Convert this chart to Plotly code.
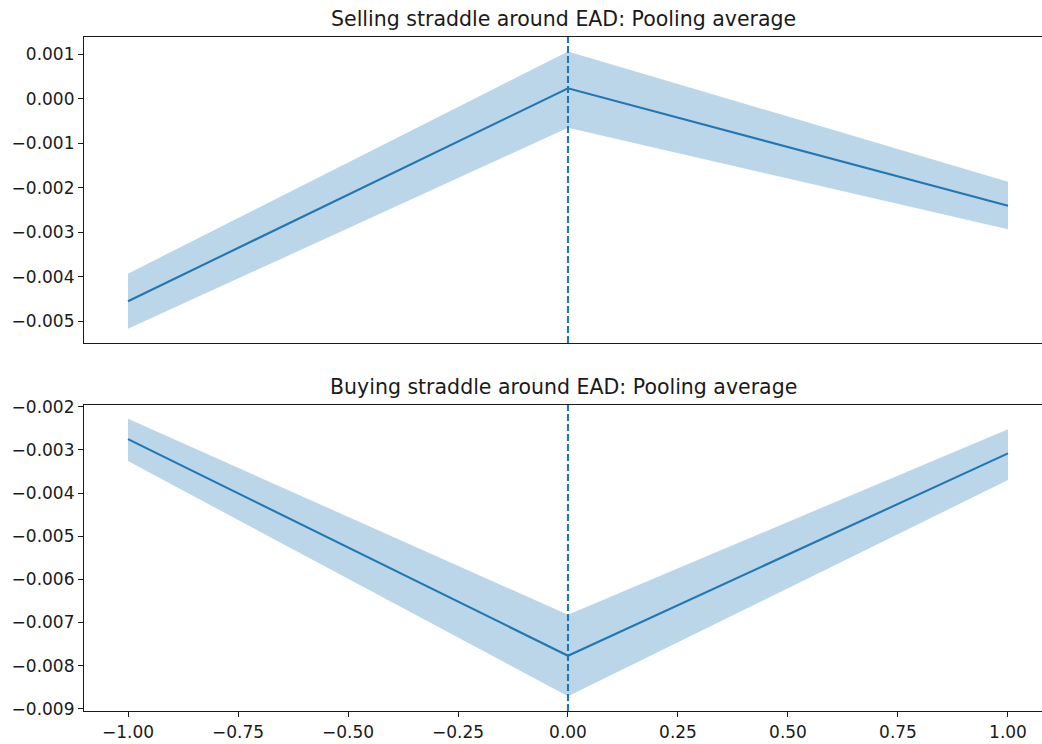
import plotly.graph_objects as go
from plotly.subplots import make_subplots

# Event-time grid (days relative to EAD)
days = [-1.0, 0.0, 1.0]

# Selling straddle: pooled mean return with confidence band
sell_mean = [-0.00455, 0.00024, -0.00240]
sell_upper = [-0.00393, 0.00107, -0.00186]
sell_lower = [-0.00517, -0.00065, -0.00293]

# Buying straddle: pooled mean return with confidence band
buy_mean = [-0.00275, -0.00777, -0.00308]
buy_upper = [-0.00228, -0.00682, -0.00252]
buy_lower = [-0.00326, -0.00871, -0.00370]

x_ticks = [-1.0, -0.75, -0.5, -0.25, 0.0, 0.25, 0.5, 0.75, 1.0]
sell_ticks = [0.001, 0.0, -0.001, -0.002, -0.003, -0.004, -0.005]
buy_ticks = [-0.002, -0.003, -0.004, -0.005, -0.006, -0.007, -0.008, -0.009]

titles = ["Selling straddle around EAD: Pooling average",
          "Buying straddle around EAD: Pooling average"]

LINE = "#1f77b4"
BAND = "rgba(31,119,180,0.3)"
FONT = "DejaVu Sans"
INK = "#1a1a1a"

fig = make_subplots(rows=2, cols=1, shared_xaxes=False, vertical_spacing=0.092)


def add_panel(row, mean, upper, lower):
    fig.add_trace(go.Scatter(x=days, y=upper, mode="lines", line=dict(width=0),
                             hoverinfo="skip", showlegend=False), row=row, col=1)
    fig.add_trace(go.Scatter(x=days, y=lower, mode="lines", line=dict(width=0),
                             fill="tonexty", fillcolor=BAND,
                             hoverinfo="skip", showlegend=False), row=row, col=1)
    fig.add_trace(go.Scatter(x=days, y=mean, mode="lines",
                             line=dict(color=LINE, width=2.1),
                             showlegend=False), row=row, col=1)


add_panel(1, sell_mean, sell_upper, sell_lower)
add_panel(2, buy_mean, buy_upper, buy_lower)

# Vertical dashed marker at the announcement day in each panel
for yref, xref in (("y domain", "x"), ("y2 domain", "x2")):
    fig.add_shape(type="line", x0=0, x1=0, y0=0, y1=1, xref=xref, yref=yref,
                  line=dict(color=LINE, width=2.1, dash="7px,3px"), layer="above")

axis_common = dict(showgrid=False, zeroline=False, showline=True,
                   linecolor=INK, linewidth=1.2, ticks="outside",
                   ticklen=5, tickwidth=1.2, tickcolor=INK,
                   tickfont=dict(family=FONT, size=17, color=INK))

x_range = [-1.1, 1.0773]
fig.update_xaxes(range=x_range, mirror=True, **axis_common)
fig.update_xaxes(showticklabels=False, ticks="", row=1, col=1)
fig.update_xaxes(tickvals=x_ticks, tickformat=".2f", row=2, col=1)

fig.update_yaxes(**axis_common)
fig.update_yaxes(range=[-0.00549, 0.001394], tickvals=sell_ticks,
                 tickformat=".3f", domain=[0.546, 1.0], row=1, col=1)
fig.update_yaxes(range=[-0.00905, -0.00196], tickvals=buy_ticks,
                 tickformat=".3f", domain=[0.0, 0.454], row=2, col=1)

fig.layout.annotations = ()
for title, ydom in zip(titles, (1.0, 0.454)):
    fig.add_annotation(text=title, x=0.5, xref="paper", y=ydom, yref="paper",
                       yanchor="bottom", yshift=4, showarrow=False,
                       font=dict(family=FONT, size=20.5, color=INK))

fig.update_layout(width=1042, height=744,
                  margin=dict(l=84, r=0, t=37, b=33),
                  plot_bgcolor="white", paper_bgcolor="white",
                  font=dict(family=FONT))

fig.write_html("out.html")
